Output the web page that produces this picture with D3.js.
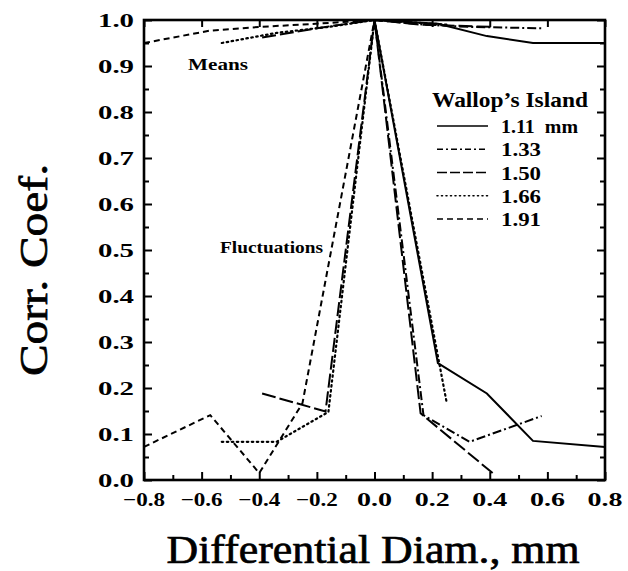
<!DOCTYPE html>
<html>
<head>
<meta charset="utf-8">
<script src="https://cdn.jsdelivr.net/npm/d3@7"></script>
<style>
  body { margin: 0; background: #fff; }
  svg { display: block; }
</style>
</head>
<body>
<svg id="chart" width="628" height="571" font-family="'Liberation Serif', 'DejaVu Serif', serif"></svg>
<script>
// ---- data ----
const seriesNames = ["1.11", "1.33", "1.50", "1.66", "1.91"];
const legendLabels = ["1.11  mm", "1.33", "1.50", "1.66", "1.91"];

const x111 = [0, 0.22, 0.39, 0.55, 0.80];
const fluct111 = [1.0, 0.254, 0.188, 0.085, 0.072];
const means111 = [1.0, 0.992, 0.965, 0.950, 0.950];

const x133 = [0, 0.17, 0.33, 0.58];
const fluct133 = [1.0, 0.141, 0.083, 0.139];
const means133 = [1.0, 0.990, 0.985, 0.982];

const x150 = [-0.39, -0.17, 0, 0.16, 0.41];
const fluct150 = [0.188, 0.149, 1.0, 0.145, 0.015];
const means150 = [0.962, 0.985, 1.0, 0.990, 0.985];

const x166 = [-0.53, -0.34, -0.16, 0, 0.25];
const fluct166 = [0.083, 0.083, 0.148, 1.0, 0.170];
const means166 = [0.950, 0.972, 0.985, 1.0, 0.990];

const x191 = [-0.80, -0.57, -0.40, -0.25, 0];
const fluct191 = [0.072, 0.141, 0.015, 0.167, 1.0];
const means191 = [0.950, 0.977, 0.985, 0.990, 1.0];

const xTicks = [-0.8, -0.6, -0.4, -0.2, 0.0, 0.2, 0.4, 0.6, 0.8];
const yTicks = [0.0, 0.1, 0.2, 0.3, 0.4, 0.5, 0.6, 0.7, 0.8, 0.9, 1.0];

// ---- layout ----
const svg = d3.select("#chart");
const L = 144, R = 605, T = 20, B = 480;
const x = d3.scaleLinear().domain([-0.8, 0.8]).range([L, R]);
const y = d3.scaleLinear().domain([0, 1]).range([B, T]);

const dashes = {
  "1.11": null,
  "1.33": "9,3,2,3",
  "1.50": "14,4",
  "1.66": "1.5,3.5",
  "1.91": "6,4"
};
const xs = {"1.11": x111, "1.33": x133, "1.50": x150, "1.66": x166, "1.91": x191};
const fl = {"1.11": fluct111, "1.33": fluct133, "1.50": fluct150, "1.66": fluct166, "1.91": fluct191};
const mn = {"1.11": means111, "1.33": means133, "1.50": means150, "1.66": means166, "1.91": means191};

const line = d3.line().x(d => x(d[0])).y(d => y(d[1]));

const g = svg.append("g");
seriesNames.forEach(s => {
  [fl[s], mn[s]].forEach(vals => {
    const pts = xs[s].map((xv, i) => [xv, vals[i]]);
    g.append("path")
      .attr("d", line(pts))
      .attr("fill", "none")
      .attr("stroke", "#000")
      .attr("stroke-width", s === "1.66" ? 2.2 : 2.0)
      .attr("stroke-linecap", s === "1.66" ? "round" : "butt")
      .attr("stroke-dasharray", dashes[s]);
  });
});

// ---- axes / ticks ----
const ax = svg.append("g");
const yMinor = d3.range(0.05, 1.0, 0.1);
const xMinor = d3.range(-0.7, 0.8, 0.2);

const bottomAxis = d3.axisBottom(x).tickValues(xTicks).tickSizeInner(-8).tickSizeOuter(0).tickFormat("");
const bottomMinor = d3.axisBottom(x).tickValues(xMinor).tickSizeInner(-5).tickSizeOuter(0).tickFormat("");
const topAxis = d3.axisTop(x).tickValues(xTicks).tickSizeInner(-7).tickSizeOuter(0).tickFormat("");
const leftAxis = d3.axisLeft(y).tickValues(yTicks).tickSizeInner(-8).tickSizeOuter(0).tickFormat("");
const leftMinor = d3.axisLeft(y).tickValues(yMinor).tickSizeInner(-5).tickSizeOuter(0).tickFormat("");
const rightAxis = d3.axisRight(y).tickValues(yTicks).tickSizeInner(-8).tickSizeOuter(0).tickFormat("");
const rightMinor = d3.axisRight(y).tickValues(yMinor).tickSizeInner(-5).tickSizeOuter(0).tickFormat("");

[[bottomAxis, `translate(0,${B})`], [bottomMinor, `translate(0,${B})`],
 [topAxis, `translate(0,${T})`],
 [leftAxis, `translate(${L},0)`], [leftMinor, `translate(${L},0)`],
 [rightAxis, `translate(${R},0)`], [rightMinor, `translate(${R},0)`]].forEach(([a, tr]) => {
  const gg = ax.append("g").attr("transform", tr).call(a);
  gg.select(".domain").remove();
  gg.selectAll("line").attr("stroke", "#000").attr("stroke-width", 2);
});

// frame
svg.append("rect").attr("x", L).attr("y", T).attr("width", R - L).attr("height", B - T)
  .attr("fill", "none").attr("stroke", "#000").attr("stroke-width", 2.6);

const fmt = d3.format(".1f");

// tick labels
svg.append("g").selectAll("text").data(xTicks).join("text")
  .attr("x", d => x(d)).attr("y", 506)
  .attr("text-anchor", "middle")
  .attr("font-size", 19).attr("font-weight", "bold")
  .attr("textLength", d => d < 0 ? 42 : 35).attr("lengthAdjust", "spacingAndGlyphs")
  .text(d => fmt(d));

svg.append("g").selectAll("text").data(yTicks).join("text")
  .attr("x", 134).attr("y", d => y(d) + 7)
  .attr("text-anchor", "end")
  .attr("font-size", 19).attr("font-weight", "bold")
  .attr("textLength", 36).attr("lengthAdjust", "spacingAndGlyphs")
  .text(d => fmt(d));

// axis titles
svg.append("text")
  .attr("x", 373).attr("y", 563)
  .attr("text-anchor", "middle")
  .attr("font-size", 40)
  .attr("stroke", "#000").attr("stroke-width", 0.7)
  .attr("textLength", 413).attr("lengthAdjust", "spacingAndGlyphs")
  .text("Differential Diam., mm");

svg.append("text")
  .attr("transform", "translate(47,270) rotate(-90)")
  .attr("text-anchor", "middle")
  .attr("font-size", 40)
  .attr("stroke", "#000").attr("stroke-width", 0.7)
  .attr("textLength", 212).attr("lengthAdjust", "spacingAndGlyphs")
  .text("Corr. Coef.");

// annotations
svg.append("text").attr("x", 188).attr("y", 70)
  .attr("font-size", 16).attr("font-weight", "bold")
  .attr("textLength", 60).attr("lengthAdjust", "spacingAndGlyphs").text("Means");
svg.append("text").attr("x", 220).attr("y", 253)
  .attr("font-size", 16).attr("font-weight", "bold")
  .attr("textLength", 103).attr("lengthAdjust", "spacingAndGlyphs").text("Fluctuations");

// legend
const lg = svg.append("g");
lg.append("text").attr("x", 432).attr("y", 107)
  .attr("font-size", 22).attr("font-weight", "bold")
  .attr("textLength", 156).attr("lengthAdjust", "spacingAndGlyphs")
  .text("Wallop\u2019s Island");
const rowY = d3.scalePoint().domain(seriesNames).range([126, 219]);
const legW = [77, 40, 40, 40, 40];
seriesNames.forEach((s, i) => {
  lg.append("line")
    .attr("x1", 437).attr("x2", 488)
    .attr("y1", rowY(s)).attr("y2", rowY(s))
    .attr("stroke", "#000").attr("stroke-width", 1.6)
    .attr("stroke-linecap", s === "1.66" ? "round" : "butt")
    .attr("stroke-dasharray", s === "1.66" ? "1,3.5" : (s === "1.33" ? "6,3,2,3" : (s === "1.50" ? "10,3" : dashes[s])));
  lg.append("text")
    .attr("x", 501).attr("y", rowY(s) + 7)
    .attr("font-size", 19).attr("font-weight", "bold")
    .attr("textLength", legW[i]).attr("lengthAdjust", "spacingAndGlyphs")
    .attr("xml:space", "preserve")
    .style("white-space", "pre")
    .text(legendLabels[i]);
});
</script>
</body>
</html>
